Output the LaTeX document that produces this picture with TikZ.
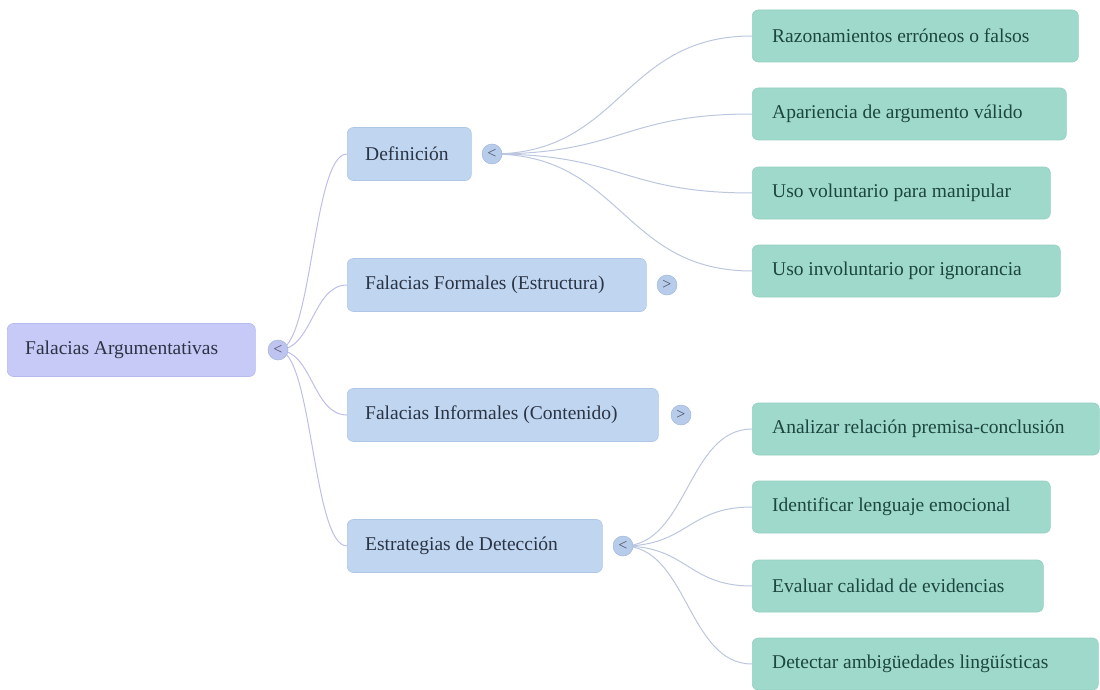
\documentclass[tikz,border=0pt]{standalone}
\usepackage{fontspec}
\setmainfont{Liberation Serif}
\usetikzlibrary{calc}
\definecolor{rootfill}{HTML}{C7CAF6}
\definecolor{rootdraw}{HTML}{B6BAEE}
\definecolor{lfill}{HTML}{BFD5F0}
\definecolor{ldraw}{HTML}{AFC6E6}
\definecolor{gfill}{HTML}{9FD9CB}
\definecolor{gdraw}{HTML}{92D0C0}
\definecolor{togroot}{HTML}{BFC3F0}
\definecolor{togl}{HTML}{B6CCEA}
\definecolor{togdraw}{HTML}{A3B8DA}
\definecolor{linkroot}{HTML}{BDBFE8}
\definecolor{linkl}{HTML}{BCC6DD}
\definecolor{txtblue}{HTML}{2B3444}
\definecolor{txtgreen}{HTML}{1C463F}
\pgfdeclarelayer{bg}
\pgfsetlayers{bg,main}
\begin{document}
\begin{tikzpicture}[x=1pt,y=-1pt,
  rootbox/.style={draw=rootdraw,fill=rootfill,rounded corners=6pt,line width=0.6pt,anchor=west,minimum height=53pt,inner sep=0pt},
  lbox/.style={draw=ldraw,fill=lfill,rounded corners=6pt,line width=0.6pt,anchor=west,minimum height=53pt,inner sep=0pt},
  gbox/.style={draw=gdraw,fill=gfill,rounded corners=6pt,line width=0.6pt,anchor=west,minimum height=52pt,inner sep=0pt},
  btext/.style={anchor=west,inner sep=0pt,text=txtblue,font=\fontsize{19.5}{23}\selectfont},
  gtext/.style={anchor=west,inner sep=0pt,text=txtgreen,font=\fontsize{19.5}{23}\selectfont},
  tog/.style={circle,minimum size=20pt,inner sep=0pt,draw=togdraw,line width=0.5pt,text=txtblue!85,font=\fontsize{16}{16}\selectfont},
  linkr/.style={draw=linkroot,line width=1pt},
  linkb/.style={draw=linkl,line width=1pt}]
\useasboundingbox (0,0) rectangle (1100,690);

% root
\node[rootbox,minimum width=248pt] (root) at (7,350) {};
\node[btext] (root-t) at ([xshift=18pt]root.west) {Falacias Argumentativas};
\node[tog,fill=togroot] (t0) at (278,350) {<};

% level 1
\foreach \n/\y/\w/\t in {a/154/124/{Definición},
                         b/285/299/{Falacias Formales (Estructura)},
                         c/415/311/{Falacias Informales (Contenido)},
                         d/546/255/{Estrategias de Detección}}{
  \node[lbox,minimum width=\w pt] (\n) at (347,\y) {};
  \node[btext] (\n-t) at ([xshift=18pt]\n.west) {\t};
}
\node[tog,fill=togl] (ta) at (492,154) {<};
\node[tog,fill=togl] (tb) at (667,285) {>};
\node[tog,fill=togl] (tc) at (681,415) {>};
\node[tog,fill=togl] (td) at (623,546) {<};

% level 2
\foreach \n/\y/\w/\t in {g1/36/326/{Razonamientos erróneos o falsos},
                         g2/114/314/{Apariencia de argumento válido},
                         g3/193/298/{Uso voluntario para manipular},
                         g4/271/308/{Uso involuntario por ignorancia},
                         g5/429/347/{Analizar relación premisa-conclusión},
                         g6/507/298/{Identificar lenguaje emocional},
                         g7/586/291/{Evaluar calidad de evidencias},
                         g8/664/346/{Detectar ambigüedades lingüísticas}}{
  \node[gbox,minimum width=\w pt] (\n) at (752,\y) {};
  \node[gtext] (\n-t) at ([xshift=20pt]\n.west) {\t};
}

\begin{pgfonlayer}{bg}
  \foreach \n in {a,b,c,d}{
    \draw[linkr] (t0.center) .. controls ($(t0.center)!0.5!(t0.center-|\n.west)$) and ($(\n.west)!0.5!(\n.west-|t0.center)$) .. (\n.west);
  }
  \foreach \n in {g1,g2,g3,g4}{
    \draw[linkb] (ta.center) .. controls ($(ta.center)!0.5!(ta.center-|\n.west)$) and ($(\n.west)!0.5!(\n.west-|ta.center)$) .. (\n.west);
  }
  \foreach \n in {g5,g6,g7,g8}{
    \draw[linkb] (td.center) .. controls ($(td.center)!0.5!(td.center-|\n.west)$) and ($(\n.west)!0.5!(\n.west-|td.center)$) .. (\n.west);
  }
\end{pgfonlayer}
\end{tikzpicture}
\end{document}
